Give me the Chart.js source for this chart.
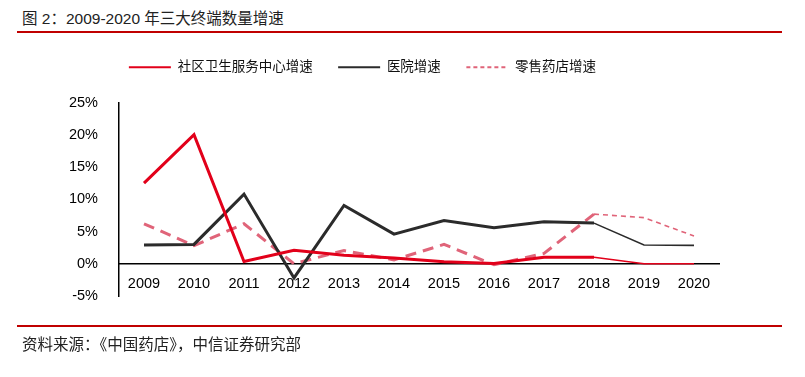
<!DOCTYPE html>
<html>
<head>
<meta charset="utf-8">
<script src="https://cdn.jsdelivr.net/npm/chart.js@4"></script>
<style>
  body { margin: 0; background: #fff; width: 805px; height: 377px; overflow: hidden; position: relative;
         font-family: "Liberation Sans", "Noto Sans CJK SC", sans-serif; }
  #title { position: absolute; left: 22px; top: 6px; font-size: 15.5px; color: #222; }
  #topline { position: absolute; left: 17px; top: 31px; width: 765px; height: 2px; background: #c00000; }
  #botline { position: absolute; left: 17px; top: 325px; width: 765px; height: 2px; background: #c00000; }
  #source { position: absolute; left: 22px; top: 332px; font-size: 15.5px; color: #222; }
  #wrap { position: absolute; left: 0; top: 0; width: 805px; height: 377px; }
</style>
</head>
<body>
<div id="title">图 2：2009-2020 年三大终端数量增速</div>
<div id="topline"></div>
<div id="wrap"><canvas id="myChart"></canvas></div>
<div id="botline"></div>
<div id="source">资料来源：《中国药店》，中信证券研究部</div>
<script>
// 年份
var years = ['2009', '2010', '2011', '2012', '2013', '2014', '2015', '2016', '2017', '2018', '2019', '2020'];
// 社区卫生服务中心增速 (%)
var sheQu = [12.5, 20.0, 0.35, 2.1, 1.3, 0.9, 0.3, 0.05, 1.0, 1.0, 0.0, 0.0];
// 医院增速 (%)
var yiYuan = [2.9, 3.0, 10.8, -2.2, 9.05, 4.6, 6.7, 5.6, 6.5, 6.3, 2.9, 2.85];
// 零售药店增速 (%)
var yaoDian = [6.2, 2.8, 6.2, 0.0, 2.05, 0.6, 3.0, -0.15, 1.6, 7.7, 7.15, 4.3];
var yTicks = [-5, 0, 5, 10, 15, 20, 25];

var cjk = '"Liberation Sans", "Noto Sans CJK SC", sans-serif';

// 2018 年之后线条变细
function thin(ctx) { return ctx.p0DataIndex >= 9; }

var ctx = document.getElementById('myChart').getContext('2d');
var myChart = new Chart(ctx, {
  type: 'line',
  data: {
    labels: years,
    datasets: [
      {
        label: '社区卫生服务中心增速',
        data: sheQu,
        borderColor: '#e2001a',
        borderWidth: 3,
        pointRadius: 0,
        segment: { borderWidth: c => thin(c) ? 1.6 : 3 }
      },
      {
        label: '医院增速',
        data: yiYuan,
        borderColor: '#2b2b2b',
        borderWidth: 3,
        pointRadius: 0,
        segment: { borderWidth: c => thin(c) ? 1.6 : 3 }
      },
      {
        label: '零售药店增速',
        data: yaoDian,
        borderColor: '#e06479',
        borderWidth: 1.6,
        borderDash: [5, 4],
        pointRadius: 0,
        segment: {
          borderWidth: c => thin(c) ? 1.6 : 3,
          borderDash: c => thin(c) ? [5, 4] : [11, 7]
        }
      }
    ]
  },
  options: {
    responsive: true,
    maintainAspectRatio: false,
    animation: false,
    layout: { padding: { top: 35, left: 6, right: 86, bottom: 81 } },
    plugins: {
      legend: {
        position: 'top',
        labels: {
          usePointStyle: true,
          pointStyle: 'line',
          pointStyleWidth: 42,
          padding: 25.5,
          color: '#111',
          font: { family: cjk, size: 13.5 },
          generateLabels: function (chart) {
            var items = Chart.defaults.plugins.legend.labels.generateLabels(chart);
            items.forEach(function (it, i) {
              it.lineWidth = 2;
              it.lineDash = i === 2 ? [4, 3] : [];
            });
            return items;
          }
        }
      },
      // 图例与绘图区之间的空白
      subtitle: {
        display: true,
        text: '',
        weight: 500,
        font: { size: 10 },
        padding: { top: 0, bottom: 6.5 }
      },
      tooltip: { enabled: false }
    },
    scales: {
      x: {
        position: { y: 0 },
        offset: true,
        grid: { display: false, offset: true },
        border: { color: '#000', width: 1.5 },
        ticks: { color: '#000', padding: 4, font: { family: cjk, size: 14.5 }, maxRotation: 0 }
      },
      y: {
        min: -5,
        max: 25,
        afterFit: function (scale) { scale.width = 113; },
        afterBuildTicks: function (scale) { scale.ticks = yTicks.map(v => ({ value: v })); },
        grid: { display: false },
        border: { color: '#000', width: 1.5 },
        ticks: {
          color: '#000',
          padding: 13,
          font: { family: cjk, size: 14.5 },
          callback: function (v) { return v + '%'; }
        }
      }
    }
  }
});
</script>
</body>
</html>
